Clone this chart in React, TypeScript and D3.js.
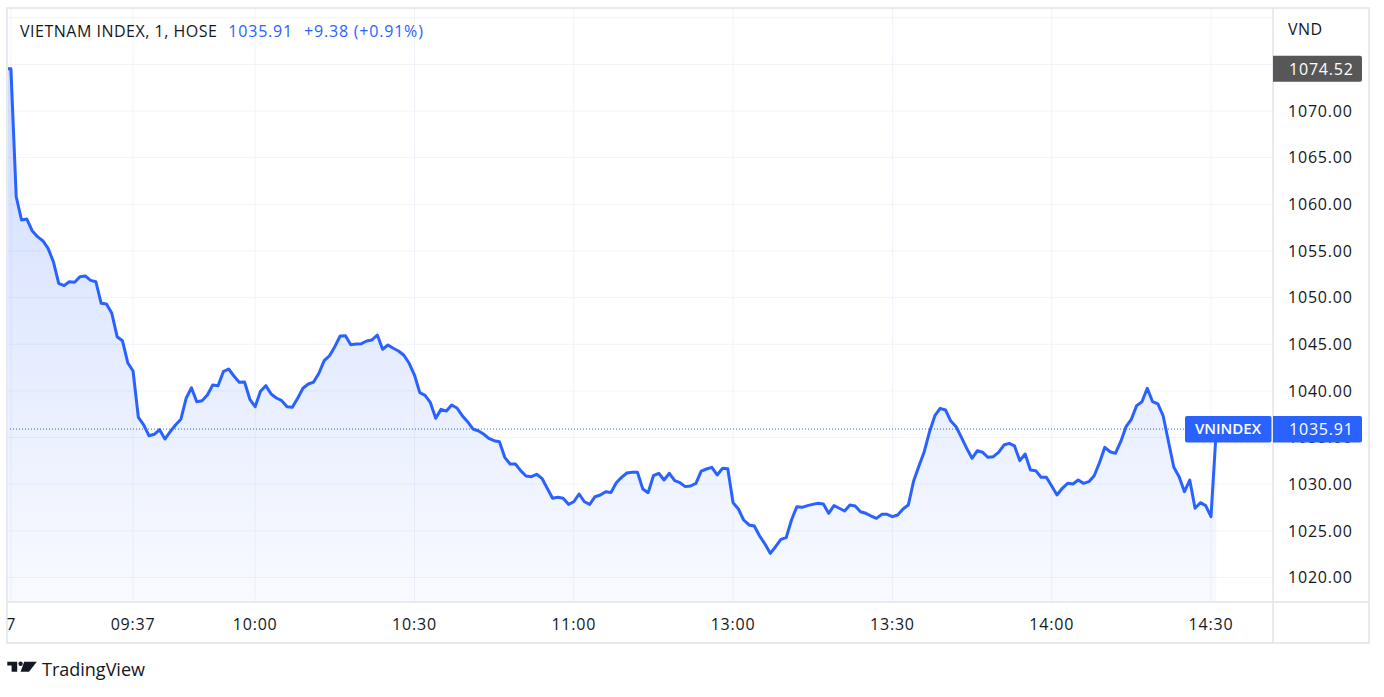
import React from 'react';
import * as d3 from 'd3';

// 1-minute closes, morning session (bar 0 = session open, clipped at the left edge)
const morningValues = [
  1074.52, 1074.52, 1060.81, 1058.32, 1058.42, 1057.17, 1056.53, 1056.1, 1055.28, 1053.85,
  1051.53, 1051.28, 1051.7, 1051.64, 1052.24, 1052.32, 1051.85, 1051.7, 1049.39, 1049.31,
  1048.32, 1045.81, 1045.38, 1043.02, 1042.13, 1037.17, 1036.35, 1035.2, 1035.35, 1035.84,
  1034.84, 1035.63, 1036.35, 1036.96, 1039.21, 1040.34, 1038.84, 1038.95, 1039.56, 1040.63,
  1040.56, 1042.06, 1042.35, 1041.6, 1040.92, 1040.95, 1039.1, 1038.31, 1039.96, 1040.56,
  1039.67, 1039.24, 1038.95, 1038.31, 1038.24, 1039.21, 1040.28, 1040.74, 1040.95, 1041.89,
  1043.24, 1043.77, 1044.74, 1045.88, 1045.92, 1044.95, 1045.02, 1045.06, 1045.35, 1045.46,
  1045.99, 1044.46, 1044.92, 1044.57, 1044.28, 1043.82, 1042.96, 1041.7, 1039.81, 1039.53,
  1038.74, 1037.06, 1038.02, 1037.85, 1038.49, 1038.17, 1037.34, 1036.7, 1035.92, 1035.73,
  1035.38, 1034.92, 1034.66, 1034.56, 1032.88, 1032.17, 1032.17, 1031.45, 1030.88, 1030.81,
  1031.06, 1030.63, 1029.56, 1028.49, 1028.6, 1028.49, 1027.84, 1028.12, 1028.95, 1028.12,
  1027.84, 1028.66, 1028.84, 1029.2, 1029.1, 1030.16, 1030.73, 1031.2, 1031.27, 1031.27,
  1029.48, 1029.09, 1030.91, 1031.17, 1030.45, 1031.17, 1030.38, 1030.16, 1029.74, 1029.81,
  1030.09, 1031.41, 1031.63, 1031.81, 1030.99, 1031.7, 1031.66,
];

// afternoon session, from 13:00 to the close
const afternoonValues = [
  1028.02, 1027.34, 1026.16, 1025.63, 1025.52, 1024.45, 1023.59, 1022.59, 1023.3, 1024.09,
  1024.27, 1026.16, 1027.59, 1027.52, 1027.7, 1027.84, 1027.95, 1027.88, 1026.88, 1027.7,
  1027.42, 1027.13, 1027.77, 1027.66, 1027.05, 1026.88, 1026.59, 1026.34, 1026.77, 1026.77,
  1026.52, 1026.7, 1027.34, 1027.77, 1030.34, 1031.95, 1033.48, 1035.63, 1037.34, 1038.13,
  1037.95, 1036.77, 1036.16, 1035.02, 1033.84, 1032.78, 1033.59, 1033.42, 1032.88, 1032.95,
  1033.42, 1034.2, 1034.38, 1034.1, 1032.52, 1033.24, 1031.52, 1031.45, 1030.74, 1030.74,
  1029.81, 1028.84, 1029.56, 1030.09, 1030.02, 1030.45, 1030.09, 1030.27, 1030.91, 1032.3,
  1033.95, 1033.48, 1033.31, 1034.55, 1036.16, 1036.96, 1038.42, 1038.84, 1040.28, 1038.84,
  1038.6, 1037.31, 1034.55, 1031.81, 1030.81, 1029.2, 1030.45, 1027.42, 1028.02, 1027.7,
  1026.52, 1035.91,
];

const timeTickBars = [1, 24, 47, 77, 107, 137, 167, 197, 227];
const timeTickLabels = ['7', '09:37', '10:00', '10:30', '11:00', '13:00', '13:30', '14:00', '14:30'];
const priceTicks = [1020, 1025, 1030, 1035, 1040, 1045, 1050, 1055, 1060, 1065, 1070, 1075, 1080];

const symbolTitle = 'VIETNAM INDEX, 1, HOSE';
const lastPrice = 1035.91;
const changeText = '+9.38 (+0.91%)';
const openPrice = 1074.52;
const seriesName = 'VNINDEX';
const currency = 'VND';

type Pt = [number, number];

const W = 1384;
const H = 697;
const FONT = '"Open Sans", Roboto, sans-serif';
const BLUE = '#2962ff';
const TEXT = '#131722';
const GRID = '#f0f3fa';
const BORDER = '#e0e3eb';
const LS = 0.8; // the screenshot's digits run a little wider than Open Sans

export default function App() {
  // pane geometry
  const left = 7;
  const top = 8;
  const paneRight = 1273;
  const paneBottom = 602;
  const outerRight = 1369;
  const outerBottom = 643;

  const values = [...morningValues, ...afternoonValues];
  const data: Pt[] = values.map((v, i) => [i, v]);

  const x = d3.scaleLinear().domain([0, values.length - 1]).range([5.6, 1216.3]);
  const y = d3.scaleLinear().domain([1020, 1070]).range([577.5, 111]);

  const line = d3.line<Pt>().x(d => x(d[0])).y(d => y(d[1]));
  const area = d3.area<Pt>().x(d => x(d[0])).y0(paneBottom).y1(d => y(d[1]));

  const lastY = y(lastPrice);
  const openY = y(openPrice);

  return (
    <svg
      width={W}
      height={H}
      style={{ position: 'absolute', left: 0, top: 0, background: '#fff' }}
      fontFamily={FONT}
    >
      <defs>
        <clipPath id="pane">
          <rect x={left + 1} y={top + 1} width={paneRight - left - 1} height={paneBottom - top - 1} />
        </clipPath>
        <clipPath id="timeAxis">
          <rect x={left + 0.5} y={paneBottom} width={paneRight - left - 1} height={outerBottom - paneBottom} />
        </clipPath>
        <linearGradient id="fill" gradientUnits="userSpaceOnUse" x1="0" y1={openY} x2="0" y2={paneBottom}>
          <stop offset="0" stopColor={BLUE} stopOpacity={0.22} />
          <stop offset="1" stopColor={BLUE} stopOpacity={0.03} />
        </linearGradient>
      </defs>

      <rect x={0} y={0} width={W} height={H} fill="#fff" />

      {/* grid */}
      <g clipPath="url(#pane)">
        {priceTicks.map(t => (
          <line key={t} x1={left} x2={paneRight} y1={y(t)} y2={y(t)} stroke={GRID} strokeWidth={1} />
        ))}
        {timeTickBars.map(b => (
          <line key={b} x1={x(b)} x2={x(b)} y1={top} y2={paneBottom} stroke={GRID} strokeWidth={1} />
        ))}

        <path d={area(data) || ''} fill="url(#fill)" />
        <line
          x1={left}
          x2={1185}
          y1={lastY}
          y2={lastY}
          stroke={BLUE}
          strokeWidth={1}
          strokeDasharray="1,2"
        />
        <path d={line(data) || ''} fill="none" stroke={BLUE} strokeWidth={3} strokeLinejoin="round" />
      </g>

      {/* frame */}
      <rect
        x={left}
        y={top}
        width={outerRight - left}
        height={outerBottom - top}
        fill="none"
        stroke={BORDER}
        strokeWidth={1.5}
      />
      <line x1={paneRight} x2={paneRight} y1={top} y2={outerBottom} stroke={BORDER} strokeWidth={1.5} />
      <line x1={left} x2={outerRight} y1={paneBottom} y2={paneBottom} stroke={BORDER} strokeWidth={1.5} />

      {/* legend */}
      <text x={20} y={37} fontSize={16} fill={TEXT} letterSpacing={0.5}>
        {symbolTitle}
        <tspan dx={11} fill={BLUE} letterSpacing={LS}>{lastPrice.toFixed(2)}</tspan>
        <tspan dx={11} fill={BLUE} letterSpacing={LS}>{changeText}</tspan>
      </text>

      {/* price axis */}
      <text x={1288} y={35} fontSize={16} fill={TEXT} letterSpacing={0.5}>{currency}</text>
      {priceTicks
        .filter(t => y(t) > openY + 20 && y(t) < paneBottom - 10)
        .map(t => (
          <text key={t} x={1288} y={y(t)} dy="0.36em" fontSize={16} fill={TEXT} letterSpacing={LS}>
            {t.toFixed(2)}
          </text>
        ))}

      <path
        d={`M${paneRight},${openY - 13} h87 a2,2 0 0 1 2,2 v22 a2,2 0 0 1 -2,2 h-87 Z`}
        fill="#575757"
      />
      <text x={1289} y={openY} dy="0.36em" fontSize={16} fill="#fff" letterSpacing={LS}>
        {openPrice.toFixed(2)}
      </text>

      <rect x={1185} y={lastY - 13} width={86.5} height={26.5} rx={2} fill={BLUE} />
      <text x={1228} y={lastY} dy="0.36em" fontSize={15} fontWeight={600} fill="#fff" textAnchor="middle">
        {seriesName}
      </text>
      <path
        d={`M${paneRight},${lastY - 13} h87 a2,2 0 0 1 2,2 v22.5 a2,2 0 0 1 -2,2 h-87 Z`}
        fill={BLUE}
      />
      <text x={1289} y={lastY} dy="0.36em" fontSize={16} fill="#fff" letterSpacing={LS}>
        {lastPrice.toFixed(2)}
      </text>

      {/* time axis */}
      <g clipPath="url(#timeAxis)">
        {timeTickBars.map((b, i) => (
          <text
            key={b}
            x={i === 0 ? x(b) + 4.5 : x(b)}
            y={630}
            fontSize={16}
            fill={TEXT}
            letterSpacing={i === 0 ? 0 : LS}
            textAnchor={i === 0 ? 'end' : 'middle'}
          >
            {timeTickLabels[i]}
          </text>
        ))}
      </g>

      {/* TradingView mark */}
      <g fill={TEXT}>
        <path d="M7.3,661.7 H17.2 V671.8 H11.6 V665.4 H7.3 Z" />
        <circle cx={20.6} cy={663.8} r={2.2} />
        <path d="M24.2,661.7 H36.8 L29,671.8 H20.6 Z" />
      </g>
      <text x={42} y={676} fontSize={18} fill={TEXT}>TradingView</text>
    </svg>
  );
}
